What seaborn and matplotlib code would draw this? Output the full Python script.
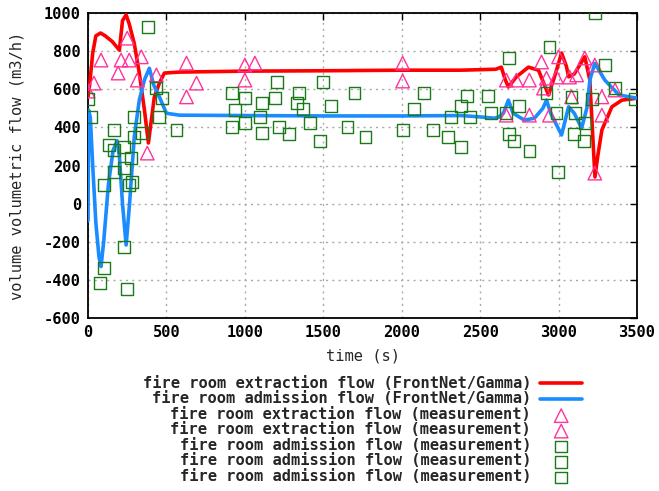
import numpy as np
import pandas as pd
import matplotlib
matplotlib.use("Agg")
import matplotlib.pyplot as plt
import seaborn as sns

# ---- data ----
ext_t = [0, 10, 30, 50, 80, 110, 155, 200, 220, 243, 262, 295, 327, 360, 385, 423, 455, 487, 583,
         1000, 1500, 2000, 2378, 2600, 2635, 2660, 2680, 2731, 2808, 2872, 2936, 2974, 3019, 3050,
         3064, 3100, 3167, 3199, 3215, 3232, 3250, 3276, 3340, 3404, 3500]
ext_v = [560, 620, 790, 880, 895, 880, 850, 805, 960, 990, 945, 840, 685, 490, 318, 560, 632, 685, 690,
         695, 697, 700, 700, 705, 716, 650, 612, 665, 716, 700, 570, 665, 790, 720,
         665, 680, 770, 650, 400, 140, 250, 386, 508, 543, 553]

adm_t = [0, 4, 15, 30, 50, 70, 83, 100, 130, 160, 186, 200, 220, 243, 265, 295, 327, 360, 391, 420,
         455, 500, 583, 1000, 1500, 2000, 2378, 2500, 2590, 2620, 2648, 2680, 2710, 2782, 2846, 2900,
         2923, 2950, 3019, 3064, 3100, 3147, 3180, 3200, 3231, 3295, 3385, 3500]
adm_v = [-90, 490, 450, 200, -100, -280, -330, -200, 100, 280, 330, 250, 0, -217, 0, 350, 543, 650, 710, 620,
         560, 474, 464, 462, 460, 460, 462, 455, 448, 455, 474, 543, 474, 438, 448, 500,
         543, 474, 360, 508, 474, 396, 500, 650, 736, 648, 570, 553]

tri_t = [0, 38, 83, 192, 211, 250, 263, 340, 314, 436, 378, 628, 692, 628, 1000, 1064, 1000, 2006, 2006,
         2667, 2731, 2814, 2891, 2923, 2904, 3000, 2987, 3070, 3115, 3167, 3083, 3231, 3276, 3360,
         2667, 2814, 2942, 3276, 3231]
tri_v = [590, 632, 753, 685, 753, 868, 753, 770, 648, 675, 265, 737, 632, 560, 727, 737, 648, 737, 643,
         648, 648, 648, 743, 658, 606, 770, 664, 664, 675, 764, 560, 727, 560, 596,
         464, 464, 464, 464, 160]

sq_t = [385, 0, 19, 167, 135, 167, 231, 295, 346, 295, 436, 474, 455, 564, 917, 1000, 936, 1109, 1096,
        917, 1000, 1109, 1205, 1192, 276, 167, 231, 103, 263, 282, 231, 103, 77, 250,
        1500, 1346, 1333, 1372, 1417, 1218, 1282, 1551, 1699, 1481, 1654, 1769, 2006, 2077, 2141,
        2199, 2295, 2378, 2314, 2378, 2417, 2436, 2551, 2571, 2686, 2942, 3231, 3295, 2923, 2750,
        2667, 2987, 3083, 3212, 3360, 3487, 3103, 3167, 2686, 2718, 3096, 3160, 2814, 2994]
sq_v = [927, 548, 455, 386, 307, 281, 297, 455, 370, 349, 606, 554, 455, 386, 580, 554, 491, 527, 455,
        402, 422, 370, 638, 554, 239, 166, 187, 98, 98, 113, -228, -338, -417, -448,
        638, 580, 527, 496, 422, 402, 365, 512, 580, 328, 402, 349, 386, 496, 580,
        386, 349, 296, 455, 512, 564, 455, 564, 474, 764, 822, 1000, 727, 580, 512,
        474, 474, 560, 548, 606, 548, 474, 422, 365, 328, 365, 328, 276, 166]

x_ticks = [0, 500, 1000, 1500, 2000, 2500, 3000, 3500]
y_ticks = [-600, -400, -200, 0, 200, 400, 600, 800, 1000]

lab_ext = "fire room extraction flow (FrontNet/Gamma)"
lab_adm = "fire room admission flow (FrontNet/Gamma)"
lab_tri = "fire room extraction flow (measurement)"
lab_sq = "fire room admission flow (measurement)"

# ---- style ----
sns.set_style("white")
plt.rcParams['font.family'] = ['DejaVu Sans Mono', 'DejaVu Sans']
plt.rcParams['font.weight'] = 'bold'
FS = 11.1

fig = plt.figure(figsize=(6.59, 4.91), dpi=100)
ax = fig.add_axes([88/659, 1-318/491, (637-88)/659, (318-13)/491])

RED = '#ff0000'
BLUE = '#1a8cff'
PINK = '#ff3399'
GREEN = '#1a7a1a'

sns.lineplot(x=ext_t, y=ext_v, sort=False, estimator=None, color=RED, lw=2.6, ax=ax, label=lab_ext, zorder=3)
sns.lineplot(x=adm_t, y=adm_v, sort=False, estimator=None, color=BLUE, lw=2.6, ax=ax, label=lab_adm, zorder=3)

tri = pd.DataFrame({'t': tri_t, 'v': tri_v})
sq = pd.DataFrame({'t': sq_t, 'v': sq_v})
for k in range(2):
    d = tri.iloc[k::2]
    sns.scatterplot(data=d, x='t', y='v', marker='^', s=95, facecolor='none', edgecolor=PINK,
                    linewidth=1.0, ax=ax, label=lab_tri, zorder=4)
for k in range(3):
    d = sq.iloc[k::3]
    sns.scatterplot(data=d, x='t', y='v', marker='s', s=72, facecolor='none', edgecolor=GREEN,
                    linewidth=1.0, ax=ax, label=lab_sq, zorder=4)

ax.set_xlim(0, 3500)
ax.set_ylim(-600, 1000)
ax.set_xticks(x_ticks)
ax.set_yticks(y_ticks)
ax.set_xticklabels([str(v) for v in x_ticks], fontsize=FS)
ax.set_yticklabels([str(v) for v in y_ticks], fontsize=FS)
ax.tick_params(direction='in', length=5, width=1, top=True, right=True, pad=5, colors='black')
ax.grid(True, color='#aaaaaa', linestyle=(0, (1.5, 3)), linewidth=1)
for s in ax.spines.values():
    s.set_color('black')
    s.set_linewidth(1.3)
ax.set_xlabel("time (s)", fontsize=FS, labelpad=6)
ax.set_ylabel("volume volumetric flow (m3/h)", fontsize=FS, labelpad=14)

leg = ax.legend(loc='upper right', bbox_to_anchor=(582/659, 1-376/491), bbox_transform=fig.transFigure,
                markerfirst=False, frameon=False, fontsize=FS, handlelength=2.7, labelspacing=0.03,
                handletextpad=0.6, borderaxespad=0, borderpad=0, handleheight=0.5)

fig.savefig("out.png", dpi=100)
